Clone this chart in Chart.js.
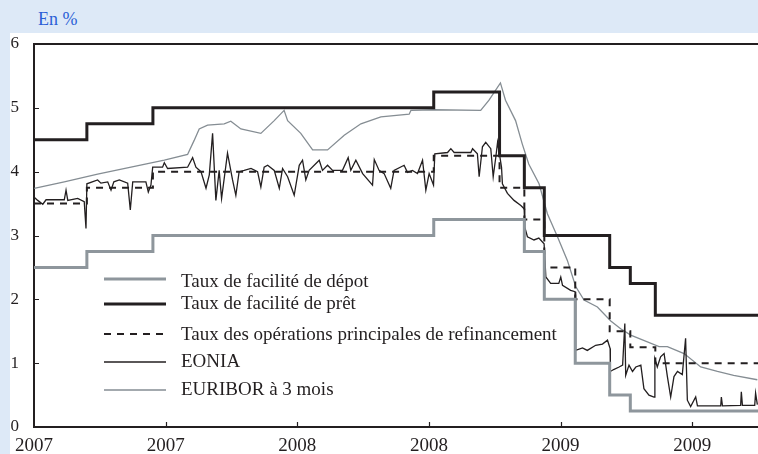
<!DOCTYPE html>
<html>
<head>
<meta charset="utf-8">
<script src="https://cdn.jsdelivr.net/npm/chart.js@4/dist/chart.umd.min.js"></script>
<style>
  body { margin: 0; width: 758px; height: 454px; overflow: hidden; position: relative;
         background: #dde9f7; font-family: "Liberation Serif", serif; }
  #unit { position: absolute; left: 38px; top: 10px; font-size: 18px; line-height: 18px; color: #2b5fd6; }
  #wrap { position: absolute; left: 10px; top: 33px; width: 748px; height: 421px; background: #fff; }
</style>
</head>
<body>
<div id="unit">En %</div>
<div id="wrap"><canvas id="chart"></canvas></div>
<script>
// months since 1 Jan 2007
const stepMonths = [0, 2.41, 5.42, 18.22, 21.22, 22.35, 23.26, 24.67, 26.24, 27.18, 28.32, 33];
const depositRate = [2.5, 2.75, 3.0, 3.25, 3.25, 2.75, 2.0, 1.0, 0.5, 0.25, 0.25, 0.25];
const lendingRate = [4.5, 4.75, 5.0, 5.25, 4.25, 3.75, 3.0, 3.0, 2.5, 2.25, 1.75, 1.75];
const mroRate = [3.5, 3.75, 4.0, 4.25, 3.75, 3.25, 2.5, 2.0, 1.5, 1.25, 1.0, 1.0];

const eoniaMonths = [0.01,0.17,0.40,0.55,1.38,1.46,1.54,1.99,2.29,2.37,
  2.41,2.90,3.05,3.36,3.51,3.64,3.89,4.27,4.39,4.50,
  5.10,5.21,5.33,5.41,5.86,5.94,6.09,7.00,7.23,7.38,
  7.61,7.84,7.99,8.14,8.29,8.44,8.55,8.82,9.05,9.20,
  9.35,9.58,9.89,10.19,10.34,10.49,10.65,10.95,11.18,11.33,
  11.56,11.86,12.09,12.24,12.39,12.54,13.00,13.15,13.38,13.61,
  14.06,14.32,14.44,14.67,14.98,15.43,15.51,15.73,15.96,16.26,
  16.41,16.87,17.02,17.25,17.48,17.71,17.86,18.01,18.21,18.27,
  18.85,19.00,19.15,19.91,19.99,20.21,20.29,20.44,20.59,20.82,
  20.93,21.05,21.13,21.31,21.35,21.58,21.88,22.19,22.34,22.37,
  22.49,22.79,23.01,23.25,23.33,23.55,23.92,24.01,24.09,24.46,
  24.66,24.69,25.00,25.22,25.60,25.91,26.14,26.26,26.27,26.42,
  26.67,26.83,26.93,26.97,27.12,27.28,27.43,27.66,27.80,28.03,
  28.26,28.30,28.41,28.56,28.72,28.87,29.02,29.17,29.33,29.55,
  29.70,29.78,29.93,30.16,30.24,31.30,31.33,31.38,32.21,32.24,
  32.29,32.85,32.89,32.97];
const eoniaRate = [3.60,3.55,3.49,3.56,3.56,3.71,3.55,3.58,3.53,3.11,
  3.81,3.87,3.82,3.84,3.71,3.84,3.87,3.82,3.40,3.84,
  3.84,3.68,3.79,4.07,4.07,4.14,4.05,4.07,4.22,4.07,
  4.00,3.74,3.95,4.60,3.55,4.02,3.58,4.29,3.87,3.63,
  4.00,4.02,4.05,4.00,3.76,4.07,4.10,4.02,3.74,4.05,
  3.92,3.63,4.10,4.18,3.87,4.02,4.18,4.02,4.10,4.02,
  4.02,4.22,4.02,4.18,3.97,3.79,4.19,4.02,3.97,3.74,
  4.02,4.10,3.99,4.02,3.97,4.18,3.71,3.97,3.79,4.28,
  4.30,4.36,4.30,4.30,4.36,4.28,3.92,4.39,4.46,4.36,
  3.92,4.23,4.46,4.07,3.81,3.66,3.55,3.47,3.42,3.13,
  2.98,2.93,2.96,2.87,2.35,2.25,2.25,2.35,2.22,2.14,
  2.12,1.20,1.24,1.20,1.28,1.30,1.36,1.23,0.87,0.90,
  0.94,0.97,1.62,0.81,0.97,0.87,0.94,0.97,0.60,0.50,
  0.47,1.07,0.94,1.10,1.15,0.79,0.47,0.79,0.87,0.82,
  1.39,0.42,0.32,0.47,0.33,0.33,0.47,0.33,0.34,0.55,
  0.34,0.34,0.53,0.35];

const euriborMonths = [0.01,1.38,2.90,4.42,5.94,7.00,7.30,7.53,7.91,8.67,
  8.97,9.43,10.34,10.95,11.40,11.56,12.16,12.70,13.38,14.14,
  14.90,15.81,17.10,17.18,18.24,20.36,20.74,21.26,21.49,21.95,
  22.25,22.55,23.02,23.40,23.86,24.31,24.69,25.07,25.68,26.29,
  26.74,27.20,28.49,28.87,29.63,30.39,31.15,31.89,32.97];
const euriborRate = [3.74,3.84,3.96,4.07,4.18,4.27,4.49,4.67,4.73,4.75,
  4.79,4.67,4.60,4.80,4.96,4.80,4.60,4.34,4.34,4.57,
  4.75,4.86,4.90,4.96,4.97,4.96,5.12,5.39,5.12,4.80,
  4.44,4.12,3.81,3.34,2.98,2.61,2.20,1.99,1.88,1.66,
  1.54,1.44,1.26,1.26,1.15,0.94,0.87,0.81,0.74];

const ink = '#231f20';
const grey = '#8e969c';
const serif = '"Liberation Serif", serif';

const pts = (xs, ys) => xs.map((x, i) => ({ x: x, y: ys[i] }));

// legend rows: sample line y, text baseline y (canvas px)
const legendRows = [[246, 254], [271, 276], [301, 307], [329, 334], [357, 362]];

const frame = {
  id: 'frame',
  afterDraw(chart) {
    const { ctx, chartArea: a, scales: { x, y } } = chart;
    ctx.save();
    ctx.strokeStyle = ink;
    ctx.lineWidth = 2;
    ctx.beginPath();
    ctx.moveTo(a.left - 1, a.top);
    ctx.lineTo(a.right, a.top);
    ctx.stroke();

    // inward tick marks
    ctx.lineWidth = 1.2;
    ctx.beginPath();
    x.ticks.forEach(t => {
      if (t.value > x.min) {
        const px = Math.round(x.getPixelForValue(t.value)) + 0.5;
        ctx.moveTo(px, a.bottom);
        ctx.lineTo(px, a.bottom - 5);
      }
    });
    y.ticks.forEach(t => {
      if (t.value > y.min && t.value < y.max) {
        const py = Math.round(y.getPixelForValue(t.value)) + 0.5;
        ctx.moveTo(a.left, py);
        ctx.lineTo(a.left + 5, py);
      }
    });
    ctx.stroke();

    // legend inside the plot
    ctx.font = '19px ' + serif;
    ctx.fillStyle = ink;
    ctx.textBaseline = 'alphabetic';
    chart.data.datasets.forEach((ds, i) => {
      const [ly, ty] = legendRows[i];
      ctx.strokeStyle = ds.borderColor;
      ctx.lineWidth = ds.borderWidth;
      ctx.setLineDash(ds.borderDash || []);
      ctx.beginPath();
      ctx.moveTo(94, ly);
      ctx.lineTo(156, ly);
      ctx.stroke();
      ctx.setLineDash([]);
      ctx.fillText(ds.label, 171, ty);
    });
    ctx.restore();
  }
};

new Chart(document.getElementById('chart'), {
  type: 'line',
  data: {
    datasets: [
      { label: 'Taux de facilité de dépot', data: pts(stepMonths, depositRate), stepped: true,
        borderColor: grey, borderWidth: 3 },
      { label: 'Taux de facilité de prêt', data: pts(stepMonths, lendingRate), stepped: true,
        borderColor: ink, borderWidth: 3 },
      { label: 'Taux des opérations principales de refinancement', data: pts(stepMonths, mroRate), stepped: true,
        borderColor: ink, borderWidth: 2, borderDash: [7, 6] },
      { label: 'EONIA', data: pts(eoniaMonths, eoniaRate),
        borderColor: ink, borderWidth: 1.3 },
      { label: 'EURIBOR à 3 mois', data: pts(euriborMonths, euriborRate),
        borderColor: '#858d93', borderWidth: 1.3 }
    ]
  },
  options: {
    responsive: true,
    maintainAspectRatio: false,
    animation: false,
    layout: { padding: { top: 11, right: 0, left: 0, bottom: 0 } },
    elements: { point: { radius: 0 }, line: { tension: 0 } },
    plugins: { legend: { display: false }, tooltip: { enabled: false } },
    scales: {
      x: {
        type: 'linear',
        min: 0,
        max: 33,
        grid: { display: false, drawTicks: false },
        border: { display: true, color: ink, width: 2 },
        ticks: {
          stepSize: 6,
          includeBounds: false,
          autoSkip: false,
          maxRotation: 0,
          padding: 8,
          color: ink,
          font: { family: serif, size: 19 },
          callback: v => 2007 + Math.floor(v / 12)
        },
        afterFit: s => { s.height = 27; s.paddingLeft = 0; s.paddingRight = 0; }
      },
      y: {
        min: 0,
        max: 6,
        grid: { display: false, drawTicks: false },
        border: { display: true, color: ink, width: 2 },
        ticks: {
          stepSize: 1,
          padding: 15,
          color: ink,
          font: { family: serif, size: 17 }
        },
        afterFit: s => { s.width = 24; s.paddingTop = 0; s.paddingBottom = 0; }
      }
    }
  },
  plugins: [frame]
});
</script>
</body>
</html>
